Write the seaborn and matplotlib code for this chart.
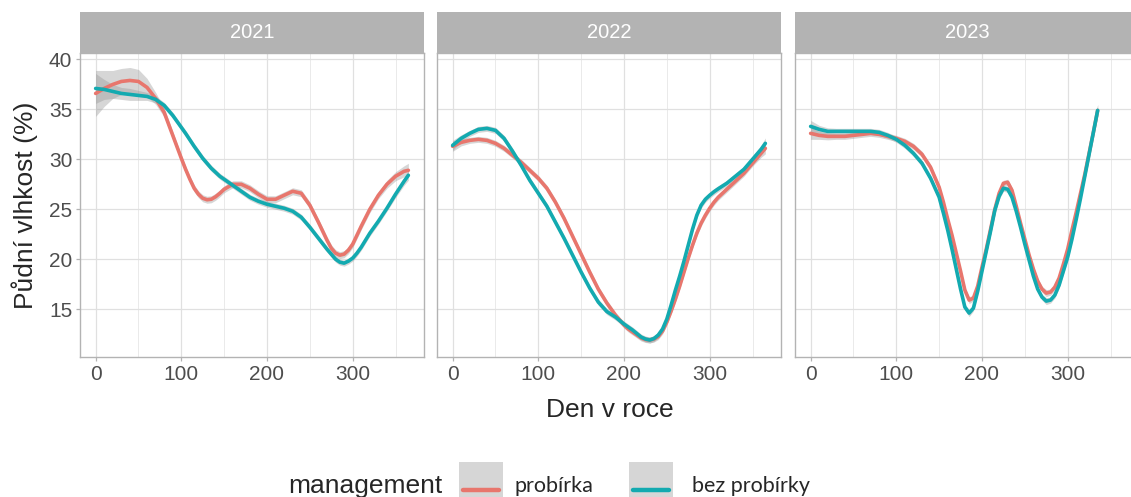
import pandas as pd
import matplotlib.pyplot as plt
import seaborn as sns
from matplotlib.patches import Rectangle
from matplotlib.lines import Line2D

# Panels (years) and groups
years = ['2021', '2022', '2023']
groups = ['probírka', 'bez probírky']
palette = {'probírka': '#E8766D', 'bez probírky': '#13AAB0'}

# Day of year grids the curves were read at (denser around bends)
days_2021 = (list(range(0, 101, 10)) + list(range(105, 146, 5)) + list(range(150, 271, 10))
             + list(range(275, 306, 5)) + list(range(310, 361, 10)) + [365])
days_2022 = (list(range(0, 201, 10)) + list(range(205, 256, 5)) + list(range(260, 311, 5))
             + list(range(320, 361, 10)) + [365])
days_2023 = list(range(0, 150, 10)) + list(range(150, 336, 5))

# Smoothed soil moisture (%)
prob_2021 = [36.6, 37.1, 37.5, 37.8, 37.9, 37.8, 37.2, 36.1, 34.7, 32.4, 30.1,
             29.0, 28.0, 27.1, 26.5, 26.1, 25.95, 26.0, 26.25, 26.6,
             27.0, 27.5, 27.5, 27.1, 26.5, 26.0, 26.0, 26.4, 26.8, 26.6, 25.4, 23.7, 21.9,
             21.1, 20.6, 20.4, 20.5, 20.9, 21.5, 22.4,
             23.3, 25.0, 26.4, 27.5, 28.3, 28.8, 28.9]
bez_2021 = [37.1, 37.0, 36.8, 36.6, 36.5, 36.4, 36.3, 36.0, 35.4, 34.4, 33.2,
            32.6, 31.95, 31.3, 30.7, 30.1, 29.6, 29.1, 28.7, 28.3,
            28.0, 27.4, 26.8, 26.2, 25.8, 25.5, 25.3, 25.1, 24.8, 24.2, 23.2, 22.1, 21.0,
            20.5, 20.0, 19.7, 19.6, 19.8, 20.1, 20.6,
            21.2, 22.6, 23.8, 25.1, 26.5, 27.8, 28.4]

prob_2022 = [31.3, 31.7, 31.9, 32.0, 31.9, 31.6, 31.1, 30.4, 29.7, 28.9, 28.1, 27.1, 25.7,
             24.1, 22.3, 20.5, 18.7, 17.0, 15.6, 14.4, 13.4,
             13.0, 12.7, 12.4, 12.1, 11.95, 11.9, 12.0, 12.25, 12.8, 13.7, 14.8,
             16.0, 17.3, 18.7, 20.1, 21.4, 22.6, 23.6, 24.4, 25.1, 25.7, 26.2,
             27.0, 27.8, 28.6, 29.6, 30.6, 31.1]
bez_2022 = [31.4, 32.1, 32.6, 33.0, 33.1, 32.9, 32.1, 30.8, 29.4, 27.9, 26.6, 25.3, 23.7,
            22.1, 20.4, 18.7, 17.1, 15.7, 14.75, 14.2, 13.5,
            13.2, 12.9, 12.55, 12.2, 12.0, 11.9, 12.05, 12.4, 13.0, 14.0, 15.4,
            16.9, 18.3, 19.8, 21.4, 23.0, 24.4, 25.4, 26.0, 26.4, 26.75, 27.05,
            27.6, 28.3, 29.0, 30.0, 31.0, 31.6]

prob_2023 = [32.6, 32.4, 32.3, 32.3, 32.3, 32.4, 32.5, 32.6, 32.5, 32.3, 32.1, 31.8, 31.3,
             30.5, 29.2, 27.2, 25.7, 24.0, 22.4, 20.6, 18.8, 16.9, 15.9, 16.1, 17.3, 19.2,
             21.0, 23.0, 25.0, 26.6, 27.6, 27.7, 26.9, 25.3, 23.6, 22.0, 20.4, 19.0, 17.8,
             17.0, 16.6, 16.7, 17.2, 18.1, 19.5, 21.0, 22.9, 24.7, 26.6, 28.5, 30.6, 32.7, 34.9]
bez_2023 = [33.3, 33.0, 32.8, 32.8, 32.8, 32.8, 32.8, 32.8, 32.7, 32.4, 32.0, 31.4, 30.6,
            29.6, 28.1, 26.2, 24.6, 22.9, 21.0, 19.0, 17.0, 15.2, 14.6, 15.1, 16.8, 18.8,
            20.8, 22.8, 24.9, 26.3, 27.1, 27.0, 26.2, 24.8, 23.2, 21.5, 19.9, 18.3, 17.0,
            16.2, 15.8, 15.9, 16.4, 17.4, 18.8, 20.2, 22.0, 24.0, 26.1, 28.3, 30.5, 32.7, 34.9]

# Half-width of the confidence band around each curve
band_prob_2021 = [2.3, 1.8, 1.4, 1.3, 1.3, 1.2, 0.9, 0.6, 0.45, 0.4, 0.35,
                  0.35, 0.35, 0.35, 0.35, 0.35, 0.35, 0.35, 0.35, 0.35,
                  0.35, 0.35, 0.35, 0.35, 0.35, 0.35, 0.35, 0.35, 0.35, 0.35, 0.35, 0.35, 0.35,
                  0.35, 0.35, 0.35, 0.35, 0.35, 0.35, 0.35,
                  0.35, 0.35, 0.35, 0.4, 0.45, 0.55, 0.7]
band_bez_2021 = [1.5, 1.0, 0.7, 0.6, 0.6, 0.5, 0.4, 0.35, 0.3, 0.3, 0.3,
                 0.3, 0.3, 0.3, 0.3, 0.3, 0.3, 0.3, 0.3, 0.3,
                 0.3, 0.3, 0.3, 0.3, 0.3, 0.3, 0.3, 0.3, 0.3, 0.3, 0.3, 0.3, 0.3,
                 0.3, 0.3, 0.3, 0.3, 0.3, 0.3, 0.3,
                 0.3, 0.3, 0.3, 0.3, 0.35, 0.4, 0.5]
band_2022 = [0.5, 0.35, 0.3, 0.3, 0.3, 0.3, 0.3, 0.3, 0.3, 0.3, 0.3, 0.3, 0.3,
             0.3, 0.3, 0.3, 0.3, 0.3, 0.3, 0.3, 0.3,
             0.3, 0.3, 0.3, 0.3, 0.3, 0.3, 0.3, 0.3, 0.3, 0.3, 0.3,
             0.3, 0.3, 0.3, 0.3, 0.3, 0.3, 0.3, 0.3, 0.3, 0.3, 0.3,
             0.3, 0.3, 0.3, 0.3, 0.4, 0.55]
band_2023 = [0.6, 0.4, 0.35, 0.3, 0.3, 0.3, 0.3, 0.3, 0.3, 0.3, 0.3, 0.3, 0.3,
             0.3, 0.3, 0.3, 0.3, 0.3, 0.3, 0.3, 0.3, 0.3, 0.35, 0.3, 0.3, 0.3,
             0.3, 0.3, 0.3, 0.3, 0.3, 0.3, 0.3, 0.3, 0.3, 0.3, 0.3, 0.3, 0.3,
             0.3, 0.35, 0.3, 0.3, 0.3, 0.3, 0.3, 0.3, 0.3, 0.3, 0.3, 0.3, 0.4, 0.6]

x_ticks = [0, 100, 200, 300]
x_minor = [50, 150, 250, 350]
y_ticks = [15, 20, 25, 30, 35, 40]


def build_frame():
    """Long-form table: one row per year, group and day"""
    parts = [
        ('2021', days_2021, prob_2021, band_prob_2021, bez_2021, band_bez_2021),
        ('2022', days_2022, prob_2022, band_2022, bez_2022, band_2022),
        ('2023', days_2023, prob_2023, band_2023, bez_2023, band_2023),
    ]
    frames = []
    for year, days, p, bp, b, bb in parts:
        for name, vals, band in [(groups[0], p, bp), (groups[1], b, bb)]:
            frames.append(pd.DataFrame({'year': year, 'day': days, 'value': vals,
                                        'band': band, 'management': name}))
    return pd.concat(frames, ignore_index=True)


data = build_frame()

sns.set_theme(style='white')
plt.rcParams['font.family'] = ['Liberation Sans', 'DejaVu Sans']

W, H = 1131, 497
fig = plt.figure(figsize=(W / 100, H / 100), dpi=100)


def box(x0, y0, x1, y1):
    # pixel box (top-left origin) -> figure fraction
    return [x0 / W, 1 - y1 / H, (x1 - x0) / W, (y1 - y0) / H]


panel_left = [80, 437, 795]
panel_w = 344
border = '#B3B3B3'

for i, year in enumerate(years):
    left = panel_left[i]
    ax = fig.add_axes(box(left, 53, left + panel_w, 357))
    sub = data[data['year'] == year]

    # confidence bands first, lines on top
    for name in groups:
        g = sub[sub['management'] == name]
        ax.fill_between(g['day'], g['value'] - g['band'], g['value'] + g['band'],
                        color='#999999', alpha=0.4, lw=0, zorder=1.5)
    sns.lineplot(data=sub, x='day', y='value', hue='management', hue_order=groups,
                 palette=palette, linewidth=2.6, estimator=None, legend=False, ax=ax,
                 zorder=2, solid_joinstyle='round')

    ax.set_xlim(-18.25, 383.25)
    ax.set_ylim(10.2, 40.65)
    ax.set_xticks(x_ticks)
    ax.set_xticks(x_minor, minor=True)
    ax.set_yticks(y_ticks)
    ax.set_xlabel('')
    ax.set_ylabel('')
    ax.grid(which='major', color='#E0E0E0', lw=0.9)
    ax.grid(which='minor', axis='x', color='#EAEAEA', lw=0.7)
    ax.set_axisbelow(True)
    for sp in ax.spines.values():
        sp.set_color(border)
        sp.set_linewidth(1.0)
    ax.tick_params(which='major', length=3, width=0.9, color=border, labelcolor='#4D4D4D',
                   labelsize=15, pad=2.5, bottom=True, left=True)
    ax.tick_params(which='minor', length=0)
    if i > 0:
        ax.tick_params(axis='y', left=False, labelleft=False)

    # facet strip
    strip = fig.add_axes(box(left, 12, left + panel_w, 53))
    strip.set_facecolor('#B3B3B3')
    strip.set_xticks([])
    strip.set_yticks([])
    for sp in strip.spines.values():
        sp.set_visible(False)
    strip.text(0.5, 0.5, year, ha='center', va='center', color='white', fontsize=14.5,
               transform=strip.transAxes)

fig.text(25 / W, 1 - 205 / H, 'Půdní vlhkost (%)', rotation=90, ha='center', va='center',
         fontsize=19)
fig.text(610 / W, 1 - 417 / H, 'Den v roce', ha='center', va='baseline', fontsize=19)

# legend drawn by hand along the bottom
fig.text(288 / W, 1 - 493 / H, 'management', ha='left', va='baseline', fontsize=19)
key_x = [459, 629]
label_x = [515, 692]
for name, kx, lx in zip(groups, key_x, label_x):
    fig.add_artist(Rectangle((kx / W, 0), 44 / W, (H - 462) / H, transform=fig.transFigure,
                             facecolor='#D6D6D6', edgecolor='none'))
    fig.add_artist(Line2D([(kx + 4) / W, (kx + 40) / W], [1 - 490 / H, 1 - 490 / H],
                          transform=fig.transFigure, color=palette[name], lw=3.2))
    fig.text(lx / W, 1 - 492 / H, name, ha='left', va='baseline', fontsize=15.5,
             family=['Lato', 'DejaVu Sans'])

fig.savefig('out.png', dpi=100)
plt.close(fig)
